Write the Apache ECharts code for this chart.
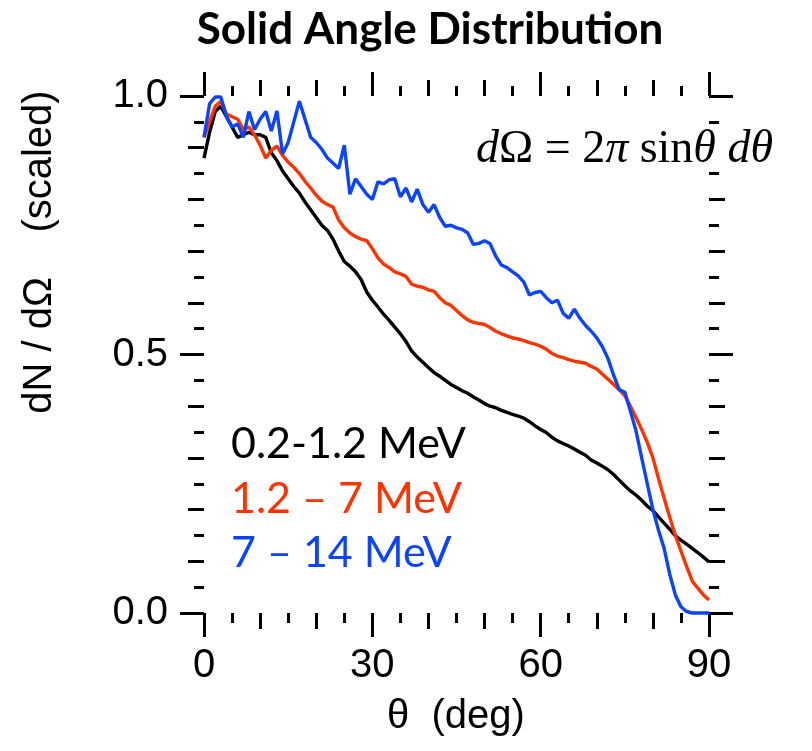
<!DOCTYPE html>
<html>
<head>
<meta charset="utf-8">
<script src="https://cdn.jsdelivr.net/npm/echarts@6.0.0/dist/echarts.min.js"></script>
<style>
html,body{margin:0;padding:0;background:#fff;}
#chart{width:812px;height:751px;}
</style>
</head>
<body>
<div id="chart"></div>
<script>
// ---- data ----
const titleText = 'Solid Angle Distribution';
const xTickLabels = ['0', '30', '60', '90'];
const yTickLabels = ['0.0', '0.5', '1.0'];
const seriesNames = ['0.2-1.2 MeV', '1.2 \u2013 7 MeV', '7 \u2013 14 MeV'];
const theta = [0,1,2,3,4,5,6,7,8,9,10,11,12,13,14,15,16,17,18,19,20,21,22,23,24,25,26,27,28,29,30,
  31,32,33,34,35,36,37,38,39,40,41,42,43,44,45,46,47,48,49,50,51,52,53,54,55,56,57,58,59,60,
  61,62,63,64,65,66,67,68,69,70,71,72,73,74,75,76,77,78,79,80,81,82,83,84,85,86,87,88,89,90];
const lowE = [0.88,0.93,0.97,0.98,0.96,0.94,0.92,0.925,0.93,0.925,0.925,0.92,0.89,0.875,0.855,0.84,
  0.825,0.812,0.795,0.78,0.765,0.75,0.74,0.723,0.70,0.68,0.671,0.66,0.645,0.621,0.605,
  0.592,0.578,0.566,0.553,0.54,0.525,0.507,0.495,0.485,0.475,0.465,0.458,0.45,0.442,0.436,
  0.43,0.425,0.418,0.412,0.405,0.40,0.397,0.392,0.388,0.384,0.381,0.377,0.37,0.362,0.355,
  0.349,0.34,0.333,0.328,0.323,0.317,0.311,0.305,0.296,0.29,0.284,0.277,0.268,0.257,0.246,
  0.236,0.228,0.218,0.207,0.198,0.186,0.174,0.162,0.149,0.141,0.133,0.125,0.117,0.108,0.099];
const midE = [0.92,0.95,0.98,0.99,0.965,0.96,0.955,0.935,0.94,0.925,0.905,0.88,0.895,0.903,0.885,0.872,
  0.862,0.85,0.835,0.822,0.808,0.797,0.79,0.785,0.76,0.745,0.735,0.728,0.723,0.72,0.705,
  0.687,0.675,0.668,0.66,0.656,0.651,0.636,0.632,0.63,0.625,0.622,0.61,0.60,0.595,0.585,
  0.575,0.567,0.562,0.56,0.558,0.552,0.545,0.54,0.536,0.532,0.53,0.527,0.523,0.52,0.516,
  0.51,0.502,0.497,0.494,0.49,0.487,0.485,0.483,0.477,0.472,0.462,0.452,0.442,0.432,0.42,
  0.40,0.378,0.355,0.33,0.30,0.26,0.222,0.185,0.15,0.12,0.09,0.062,0.048,0.035,0.025];
const highE = [0.92,0.985,0.998,0.998,0.96,0.94,0.946,0.92,0.97,0.935,0.955,0.97,0.932,0.971,0.888,0.91,
  0.95,0.99,0.955,0.92,0.91,0.897,0.88,0.87,0.86,0.905,0.81,0.84,0.825,0.81,0.80,
  0.834,0.83,0.838,0.84,0.805,0.822,0.795,0.82,0.79,0.775,0.79,0.765,0.748,0.75,0.745,
  0.742,0.735,0.713,0.715,0.72,0.714,0.69,0.673,0.668,0.66,0.652,0.64,0.615,0.62,0.622,
  0.61,0.60,0.605,0.58,0.57,0.588,0.57,0.556,0.545,0.532,0.515,0.492,0.46,0.432,0.427,
  0.39,0.352,0.30,0.25,0.20,0.16,0.125,0.075,0.035,0.012,0.003,0,0,0,0];

// ---- styles ----
const colors = ['#000000', '#ff3300', '#0a44ff'];
const tickFont = 'Liberation Sans, Arial, sans-serif';
const tickW = 3;

function xAx(pos, interval, len, minor, labels) {
  return {
    type: 'value', min: 0, max: 90, interval: interval, position: pos,
    axisLine: {show: false, onZero: false}, splitLine: {show: false},
    axisTick: {show: true, length: len, lineStyle: {width: tickW, color: '#000'}},
    minorTick: {show: minor, splitNumber: 6, length: 10, lineStyle: {width: tickW, color: '#000'}},
    axisLabel: labels ? {show: true, fontSize: 40, fontFamily: tickFont, color: '#000', margin: 33,
      formatter: v => xTickLabels[Math.round(v / 30)]} : {show: false}
  };
}
function yAx(pos, interval, len, minor, labels) {
  return {
    type: 'value', min: 0, max: 1, interval: interval, position: pos,
    axisLine: {show: false, onZero: false}, splitLine: {show: false},
    axisTick: {show: true, length: len, lineStyle: {width: tickW, color: '#000'}},
    minorTick: {show: minor, splitNumber: 10, length: 10, lineStyle: {width: tickW, color: '#000'}},
    axisLabel: labels ? {show: true, fontSize: 40, fontFamily: tickFont, color: '#000', margin: 36,
      formatter: v => yTickLabels[Math.round(v / 0.5)]} : {show: false}
  };
}

const chart = echarts.init(document.getElementById('chart'), null, {renderer: 'canvas'});
const seriesData = [lowE, midE, highE];
const serif = 'Liberation Serif, Times New Roman, serif';
chart.setOption({
  animation: false,
  backgroundColor: '#fff',
  grid: {left: 204, right: 103, top: 96, bottom: 138, outerBoundsMode: 'none', containLabel: false},
  xAxis: [
    xAx('bottom', 30, 24, true, true),
    xAx('bottom', 10, 16, false, false),
    xAx('top', 30, 24, true, false),
    xAx('top', 10, 16, false, false)
  ],
  yAxis: [
    yAx('left', 0.5, 24, true, true),
    yAx('left', 0.1, 16, false, false),
    yAx('right', 0.5, 24, true, false),
    yAx('right', 0.1, 16, false, false)
  ],
  series: seriesData.map((arr, k) => ({
    type: 'line', name: seriesNames[k], xAxisIndex: 0, yAxisIndex: 0,
    showSymbol: false, symbol: 'none', clip: false,
    lineStyle: {width: 3.4, color: colors[k]},
    data: theta.map((t, i) => [t, arr[i]])
  })),
  graphic: [
    {type: 'text', x: 430, y: 30, style: {text: titleText, fontFamily: 'Lato, sans-serif',
      fontWeight: 'bold', fontSize: 44, fill: '#000', align: 'center', verticalAlign: 'middle'}},
    {type: 'text', x: 456, y: 717, style: {text: '\u03b8  (deg)', fontFamily: tickFont, fontSize: 40,
      fill: '#000', align: 'center', verticalAlign: 'middle'}},
    {type: 'text', x: 40, y: 252, rotation: Math.PI / 2, style: {text: 'dN / d\u03a9    (scaled)',
      fontFamily: tickFont, fontSize: 40, fill: '#000', align: 'center', verticalAlign: 'middle'}},
    {type: 'text', x: 231, y: 444, style: {text: seriesNames[0], fontFamily: 'Lato, sans-serif', fontSize: 43,
      fill: colors[0], align: 'left', verticalAlign: 'middle'}},
    {type: 'text', x: 231, y: 499, style: {text: seriesNames[1], fontFamily: 'Lato, sans-serif', fontSize: 43,
      fill: colors[1], align: 'left', verticalAlign: 'middle'}},
    {type: 'text', x: 231, y: 553, style: {text: seriesNames[2], fontFamily: 'Lato, sans-serif', fontSize: 43,
      fill: colors[2], align: 'left', verticalAlign: 'middle'}},
    {type: 'text', x: 476, y: 150, z: 100, style: {
      text: '{i|d}{n|\u03a9 = 2}{i|\u03c0}{n| sin}{i|\u03b8 d\u03b8}',
      verticalAlign: 'middle', align: 'left',
      backgroundColor: '#fff', lineHeight: 40,
      rich: {
        i: {fontFamily: serif, fontStyle: 'italic', fontSize: 46, fill: '#000', lineHeight: 40},
        n: {fontFamily: serif, fontSize: 46, fill: '#000', lineHeight: 40}
      }}}
  ]
});
</script>
</body>
</html>
